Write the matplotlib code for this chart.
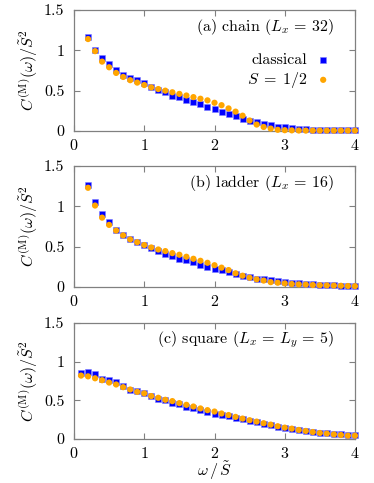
import numpy as np
import matplotlib
matplotlib.use("Agg")
import matplotlib.pyplot as plt

plt.rcParams['font.family'] = 'serif'
plt.rcParams['font.serif'] = ['cmr10']
plt.rcParams['mathtext.fontset'] = 'cm'
plt.rcParams['axes.formatter.use_mathtext'] = True

# omega / S~ grid
w_ab = np.round(np.arange(0.2, 4.01, 0.1), 1)
w_c = np.round(np.arange(0.1, 4.01, 0.1), 1)

# (a) chain, Lx=32
chain_cl = [1.16, 1.01, 0.90, 0.83, 0.76, 0.69, 0.66, 0.63, 0.60, 0.54,
            0.51, 0.48, 0.44, 0.42, 0.38, 0.36, 0.33, 0.30, 0.27, 0.24,
            0.21, 0.18, 0.15, 0.13, 0.11, 0.09, 0.07, 0.05, 0.045, 0.035,
            0.025, 0.02, 0.015, 0.012, 0.01, 0.01, 0.008, 0.008, 0.007]
chain_q = [1.14, 0.99, 0.86, 0.79, 0.72, 0.67, 0.63, 0.60, 0.57, 0.54,
           0.52, 0.50, 0.48, 0.46, 0.44, 0.42, 0.40, 0.38, 0.35, 0.32,
           0.28, 0.24, 0.19, 0.13, 0.08, 0.05, 0.03, 0.015, 0.01, 0.008,
           0.006, 0.005, 0.005, 0.005, 0.005, 0.005, 0.005, 0.005, 0.005]

# (b) ladder, Lx=16
ladder_cl = [1.27, 1.05, 0.91, 0.80, 0.71, 0.645, 0.60, 0.56, 0.52, 0.48,
             0.45, 0.41, 0.39, 0.35, 0.34, 0.31, 0.275, 0.25, 0.22, 0.21,
             0.18, 0.16, 0.14, 0.12, 0.105, 0.095, 0.085, 0.07, 0.06, 0.05,
             0.045, 0.04, 0.035, 0.03, 0.025, 0.02, 0.018, 0.015, 0.01]
ladder_q = [1.23, 1.01, 0.86, 0.77, 0.70, 0.64, 0.59, 0.555, 0.52, 0.49,
            0.465, 0.445, 0.42, 0.40, 0.375, 0.35, 0.325, 0.30, 0.27, 0.24,
            0.21, 0.17, 0.14, 0.115, 0.095, 0.08, 0.06, 0.053, 0.045, 0.037,
            0.033, 0.03, 0.025, 0.022, 0.02, 0.018, 0.015, 0.012, 0.01]

# (c) square, Lx=Ly=5
square_cl = [0.85, 0.86, 0.84, 0.78, 0.76, 0.74, 0.69, 0.63, 0.615, 0.60,
             0.55, 0.52, 0.50, 0.47, 0.455, 0.415, 0.395, 0.37, 0.355, 0.32,
             0.31, 0.295, 0.27, 0.255, 0.23, 0.215, 0.195, 0.18, 0.155, 0.145,
             0.13, 0.115, 0.105, 0.09, 0.083, 0.075, 0.065, 0.07, 0.052, 0.052]
square_q = [0.82, 0.81, 0.785, 0.76, 0.73, 0.705, 0.67, 0.64, 0.61, 0.59,
            0.555, 0.533, 0.507, 0.49, 0.464, 0.442, 0.42, 0.395, 0.373, 0.355,
            0.33, 0.31, 0.286, 0.264, 0.243, 0.225, 0.204, 0.186, 0.165, 0.147,
            0.134, 0.117, 0.104, 0.09, 0.078, 0.07, 0.06, 0.052, 0.043, 0.043]

panels = [
    (w_ab, chain_cl, chain_q, r'(a) chain ($L_x\,{=}\,32$)'),
    (w_ab, ladder_cl, ladder_q, r'(b) ladder ($L_x\,{=}\,16$)'),
    (w_c, square_cl, square_q, r'(c) square ($L_x\,{=}\,L_y\,{=}\,5$)'),
]
xticks = [0, 1, 2, 3, 4]
yticks = [0, 0.5, 1, 1.5]
ytick_labels = ['0', '0.5', '1', '1.5']

W, H = 374, 483
fs = 11.5
fig = plt.figure(figsize=(W / 100, H / 100), dpi=100)
# axes boxes in pixels: (left, top, right, bottom)
boxes = [(74, 10, 355, 131), (74, 166, 355, 287), (74, 323, 355, 439)]

frame = '#808080'
for (w, cl, q, title), (l, t, r, b) in zip(panels, boxes):
    ax = fig.add_axes([l / W, 1 - b / H, (r - l) / W, (b - t) / H])
    ax.scatter(w, cl, marker='s', s=16, color='#0000ff', edgecolors='#8080ff',
               linewidths=0.4, clip_on=False, zorder=3, label='classical')
    ax.scatter(w, q, marker='o', s=20, color='#ffa500', edgecolors='none',
               clip_on=False, zorder=4, label=r'$S\;{=}\;1/2$')
    ax.set_xlim(0, 4)
    ax.set_ylim(0, 1.5)
    ax.set_xticks(xticks)
    ax.set_yticks(yticks, labels=ytick_labels)
    for s in ax.spines.values():
        s.set_color(frame)
        s.set_linewidth(0.9)
    ax.tick_params(direction='in', top=True, right=True, length=4,
                   width=0.8, color=frame, labelsize=fs, pad=7)
    ax.tick_params(axis='x', pad=5)
    ax.set_ylabel(r'$C^{(\mathrm{M})}(\omega)/\tilde{S}^2$', fontsize=fs, labelpad=3)
    ax.text(0.926, 0.86, title, transform=ax.transAxes, ha='right', va='center',
            fontsize=fs)
    if title.startswith('(a)'):
        ax.legend(loc='upper right', bbox_to_anchor=(0.955, 0.74), frameon=False,
                  markerfirst=False, fontsize=fs, handletextpad=0.5,
                  labelspacing=0.2, borderpad=0.2, handlelength=1.0,
                  scatterpoints=1)
    if title.startswith('(c)'):
        ax.set_xlabel(r'$\omega\,/\,\tilde{S}$', fontsize=fs, labelpad=-1)

fig.savefig('out.png', dpi=100)
